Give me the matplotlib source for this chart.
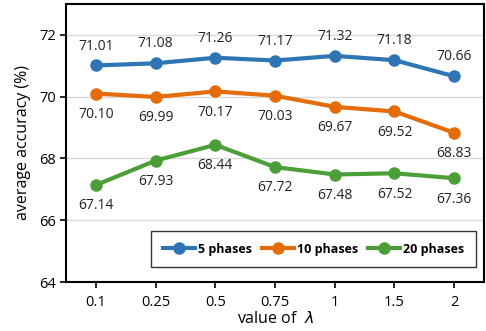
import matplotlib
matplotlib.use("Agg")
import matplotlib.pyplot as plt

plt.rcParams['font.family'] = ['Open Sans', 'DejaVu Sans']

categories = ['0.1', '0.25', '0.5', '0.75', '1', '1.5', '2']
s5 = [71.01, 71.08, 71.26, 71.17, 71.32, 71.18, 70.66]
s10 = [70.10, 69.99, 70.17, 70.03, 69.67, 69.52, 68.83]
s20 = [67.14, 67.93, 68.44, 67.72, 67.48, 67.52, 67.36]
series_names = ['5 phases', '10 phases', '20 phases']
colors = ['#2F75B5', '#E46C0A', '#4C9F38']

fig = plt.figure(figsize=(4.86, 3.31), dpi=100)
ax = fig.add_axes([0.136, 0.148, 0.860, 0.840])
x = list(range(len(categories)))

for vals, name, c, pos in zip([s5, s10, s20], series_names, colors, ['above', 'below', 'below']):
    ax.plot(x, vals, color=c, lw=3, marker='o', ms=8, label=name)
    for xi, v in zip(x, vals):
        off = 14 if pos == 'above' else -15
        ax.annotate(f'{v:.2f}', (xi, v), xytext=(0, off), textcoords='offset points',
                    ha='center', va='center', fontsize=10, color='#222222')

ax.set_xlim(-0.5, 6.5)
ax.set_ylim(64, 73)
ax.set_yticks([64, 66, 68, 70, 72])
ax.set_xticks(x)
ax.set_xticklabels(categories)
ax.yaxis.grid(True, color='#D9D9D9', lw=1)
ax.set_axisbelow(True)
for sp in ax.spines.values():
    sp.set_linewidth(1.5)
    sp.set_color('black')
ax.tick_params(axis='both', direction='out', length=4, width=1.2, labelsize=10.5, colors='black')
ax.tick_params(axis='x', pad=5)
ax.set_ylabel('average accuracy (%)', fontsize=11.5, labelpad=6)
ax.set_xlabel(r'value of  $\lambda$', fontsize=11.5, labelpad=1)

leg = ax.legend(loc='lower right', ncol=3, frameon=True, fancybox=False,
                edgecolor='black', prop={'weight': 'bold', 'size': 9},
                handlelength=2.6, handletextpad=0.2, columnspacing=0.8,
                borderpad=0.95, bbox_to_anchor=(0.995, 0.03))
leg.get_frame().set_linewidth(1.0)

fig.savefig('out.png', dpi=100)
